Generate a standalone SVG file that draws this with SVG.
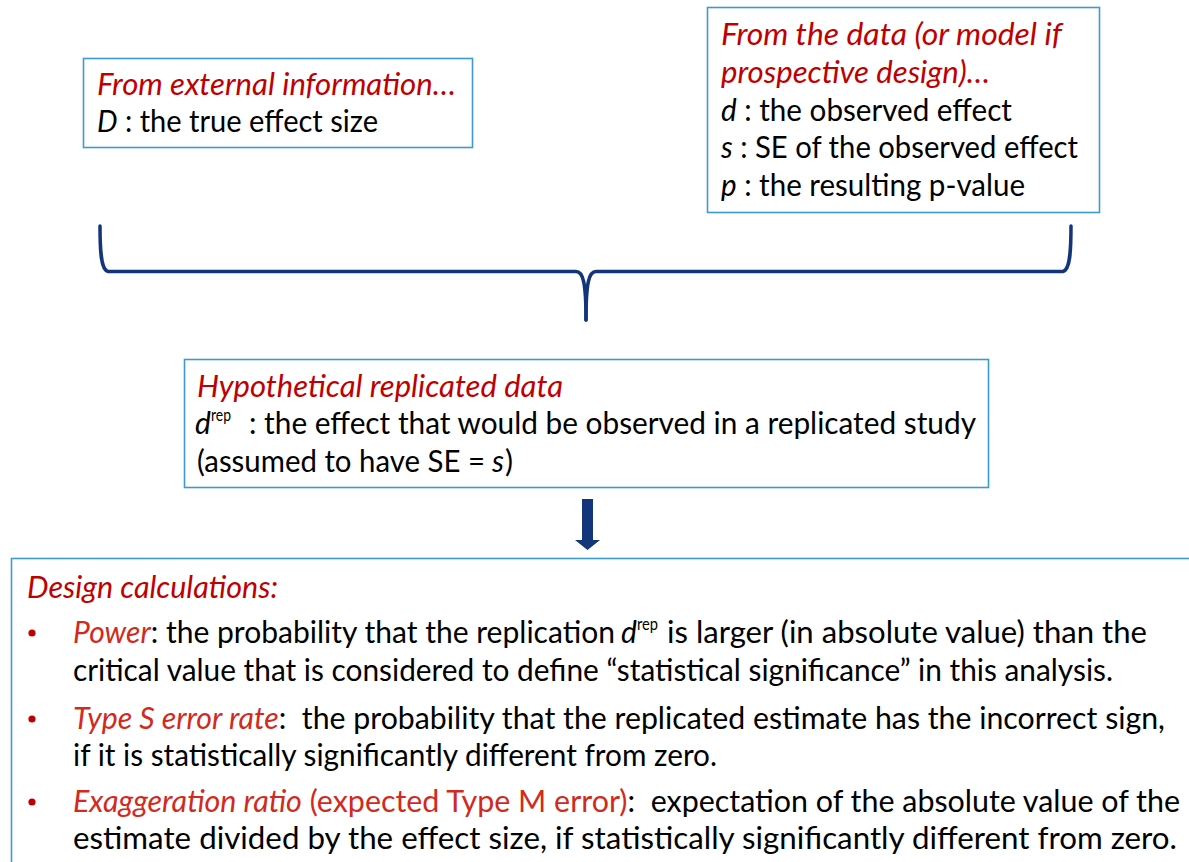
<svg xmlns="http://www.w3.org/2000/svg" width="1189" height="862" viewBox="0 0 1189 862">
<style>
.box{fill:#fff;stroke:#3d9ad1;stroke-width:1.6}
text{font-family:Lato,"Open Sans","Liberation Sans",sans-serif;font-size:30px;fill:#000}
.red{fill:#c00000;font-style:italic}
.lab{fill:#d22a1c}
.it{font-style:italic}
.sup{font-size:18px}
.pre{white-space:pre}
.brace{fill:none;stroke:#13357a;stroke-width:3.5;stroke-linecap:round}
</style>
<rect width="1189" height="862" fill="#fff"/>
<g id="external">
<rect class="box" x="83.5" y="58.5" width="389" height="89"/>
<text class="red" x="97" y="95" textLength="359" lengthAdjust="spacingAndGlyphs">From external information…</text>
<text x="97" y="132" textLength="281" lengthAdjust="spacingAndGlyphs"><tspan class="it">D</tspan> : the true effect size</text>
</g>
<g id="data">
<rect class="box" x="707.5" y="7.5" width="392" height="205"/>
<text class="red" x="721" y="45" textLength="341" lengthAdjust="spacingAndGlyphs">From the data (or model if</text>
<text class="red" x="721" y="83" textLength="269" lengthAdjust="spacingAndGlyphs">prospective design)…</text>
<text x="721" y="121" textLength="291" lengthAdjust="spacingAndGlyphs"><tspan class="it">d</tspan> : the observed effect</text>
<text x="721" y="158" textLength="357" lengthAdjust="spacingAndGlyphs"><tspan class="it">s</tspan> : SE of the observed effect</text>
<text x="721" y="196" textLength="304" lengthAdjust="spacingAndGlyphs"><tspan class="it">p</tspan> : the resulting p-value</text>
</g>
<g id="connectors">
<path class="brace" d="M100,226 C100,252 101,270 108,271.5 L576,271.5 C583,271.5 586,282 586,320"/>
<path class="brace" d="M1071,226 C1071,252 1070,270 1063,271.5 L596,271.5 C589,271.5 586,282 586,320"/>
<path d="M582,499 L593,499 L593,540 L600,540 L587.5,550 L575,540 L582,540 Z" fill="#13357a"/>
</g>
<g id="replicated">
<rect class="box" x="184.5" y="359.5" width="804" height="128"/>
<text class="red" x="197" y="397" textLength="366" lengthAdjust="spacingAndGlyphs">Hypothetical replicated data</text>
<text class="it" x="195" y="434">d</text>
<text class="sup" x="211" y="421" textLength="20" lengthAdjust="spacingAndGlyphs">rep</text>
<text x="249" y="434" textLength="727" lengthAdjust="spacingAndGlyphs">: the effect that would be observed in a replicated study</text>
<text x="197" y="472" textLength="288" lengthAdjust="spacingAndGlyphs">(assumed to have SE =</text>
<text class="it" x="492" y="472">s</text>
<text x="505" y="472">)</text>
</g>
<g id="design">
<rect class="box" x="11.5" y="558.5" width="1200" height="320"/>
<text class="red" x="27" y="598" textLength="251" lengthAdjust="spacingAndGlyphs">Design calculations:</text>
<circle cx="32" cy="633" r="3.6" fill="#c00000"/>
<circle cx="32" cy="719" r="3.6" fill="#c00000"/>
<circle cx="32" cy="802" r="3.6" fill="#c00000"/>
<text x="73" y="643" textLength="542" lengthAdjust="spacingAndGlyphs"><tspan class="lab it">Power</tspan>: the probability that the replication</text>
<text class="it" x="621" y="643">d</text>
<text class="sup" x="637" y="630" textLength="21" lengthAdjust="spacingAndGlyphs">rep</text>
<text x="667" y="643" textLength="480" lengthAdjust="spacingAndGlyphs">is larger (in absolute value) than the</text>
<text x="73" y="681" textLength="1040" lengthAdjust="spacingAndGlyphs">critical value that is considered to define “statistical significance” in this analysis.</text>
<text class="pre" x="73" y="729" textLength="1092" lengthAdjust="spacingAndGlyphs"><tspan class="lab it">Type S error rate</tspan>:  the probability that the replicated estimate has the incorrect sign,</text>
<text x="73" y="766" textLength="644" lengthAdjust="spacingAndGlyphs">if it is statistically significantly different from zero.</text>
<text class="pre" x="73" y="812" textLength="1107" lengthAdjust="spacingAndGlyphs"><tspan class="lab it">Exaggeration ratio</tspan><tspan class="lab"> (expected Type M error)</tspan>:  expectation of the absolute value of the</text>
<text x="73" y="849" textLength="1104" lengthAdjust="spacingAndGlyphs">estimate divided by the effect size, if statistically significantly different from zero.</text>
</g>
</svg>
